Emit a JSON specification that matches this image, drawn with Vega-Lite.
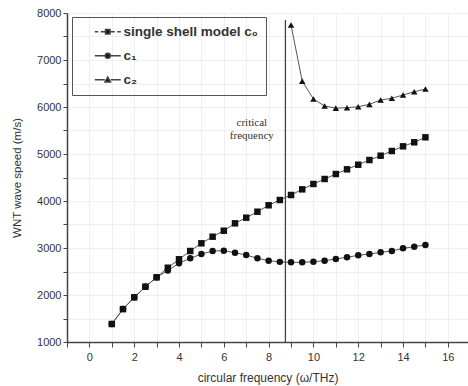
{
  "$schema": "https://vega.github.io/schema/vega-lite/v6.json",
  "width": 401,
  "height": 329,
  "autosize": {"type": "none"},
  "padding": {"left": 67, "top": 13, "right": 0, "bottom": 44},
  "background": "white",
  "config": {
    "font": "Liberation Sans",
    "view": {"stroke": null},
    "axis": {"labelColor": "#333", "titleColor": "#333", "domainColor": "#444", "tickColor": "#444", "labelFont": "Liberation Sans", "titleFont": "Liberation Sans", "gridColor": "#ececec", "gridWidth": 0.8}
  },
  "data": {"values": [
      {"x": 1, "v": 1383, "s": "c0"}, {"x": 1.5, "v": 1700, "s": "c0"}, {"x": 2, "v": 1950, "s": "c0"}, {"x": 2.5, "v": 2177, "s": "c0"}, {"x": 3, "v": 2376, "s": "c0"}, {"x": 3.5, "v": 2580, "s": "c0"}, {"x": 4, "v": 2760, "s": "c0"}, {"x": 4.5, "v": 2936, "s": "c0"}, {"x": 5, "v": 3100, "s": "c0"}, {"x": 5.5, "v": 3240, "s": "c0"}, {"x": 6, "v": 3368, "s": "c0"}, {"x": 6.5, "v": 3525, "s": "c0"}, {"x": 7, "v": 3645, "s": "c0"}, {"x": 7.5, "v": 3772, "s": "c0"}, {"x": 8, "v": 3909, "s": "c0"}, {"x": 8.5, "v": 4021, "s": "c0"}, {"x": 9, "v": 4128, "s": "c0"}, {"x": 9.5, "v": 4248, "s": "c0"}, {"x": 10, "v": 4362, "s": "c0"}, {"x": 10.5, "v": 4468, "s": "c0"}, {"x": 11, "v": 4574, "s": "c0"}, {"x": 11.5, "v": 4674, "s": "c0"}, {"x": 12, "v": 4772, "s": "c0"}, {"x": 12.5, "v": 4872, "s": "c0"}, {"x": 13, "v": 4964, "s": "c0"}, {"x": 13.5, "v": 5064, "s": "c0"}, {"x": 14, "v": 5163, "s": "c0"}, {"x": 14.5, "v": 5249, "s": "c0"}, {"x": 15, "v": 5355, "s": "c0"},
      {"x": 1, "v": 1383, "s": "c1"}, {"x": 1.5, "v": 1700, "s": "c1"}, {"x": 2, "v": 1950, "s": "c1"}, {"x": 2.5, "v": 2177, "s": "c1"}, {"x": 3, "v": 2376, "s": "c1"}, {"x": 3.5, "v": 2520, "s": "c1"}, {"x": 4, "v": 2675, "s": "c1"}, {"x": 4.5, "v": 2780, "s": "c1"}, {"x": 5, "v": 2872, "s": "c1"}, {"x": 5.5, "v": 2936, "s": "c1"}, {"x": 6, "v": 2943, "s": "c1"}, {"x": 6.5, "v": 2900, "s": "c1"}, {"x": 7, "v": 2851, "s": "c1"}, {"x": 7.5, "v": 2781, "s": "c1"}, {"x": 8, "v": 2730, "s": "c1"}, {"x": 8.5, "v": 2705, "s": "c1"}, {"x": 9, "v": 2695, "s": "c1"}, {"x": 9.5, "v": 2695, "s": "c1"}, {"x": 10, "v": 2709, "s": "c1"}, {"x": 10.5, "v": 2730, "s": "c1"}, {"x": 11, "v": 2766, "s": "c1"}, {"x": 11.5, "v": 2802, "s": "c1"}, {"x": 12, "v": 2845, "s": "c1"}, {"x": 12.5, "v": 2872, "s": "c1"}, {"x": 13, "v": 2908, "s": "c1"}, {"x": 13.5, "v": 2936, "s": "c1"}, {"x": 14, "v": 2993, "s": "c1"}, {"x": 14.5, "v": 3028, "s": "c1"}, {"x": 15, "v": 3064, "s": "c1"},
      {"x": 9, "v": 7745, "s": "c2"}, {"x": 9.5, "v": 6550, "s": "c2"}, {"x": 10, "v": 6170, "s": "c2"}, {"x": 10.5, "v": 6021, "s": "c2"}, {"x": 11, "v": 5975, "s": "c2"}, {"x": 11.5, "v": 5985, "s": "c2"}, {"x": 12, "v": 6006, "s": "c2"}, {"x": 12.5, "v": 6057, "s": "c2"}, {"x": 13, "v": 6149, "s": "c2"}, {"x": 13.5, "v": 6185, "s": "c2"}, {"x": 14, "v": 6255, "s": "c2"}, {"x": 14.5, "v": 6325, "s": "c2"}, {"x": 15, "v": 6383, "s": "c2"}
  ]},
  "encoding": {
    "x": {"field": "x", "type": "quantitative", "scale": {"domain": [-1, 16.9], "nice": false, "zero": false},
      "axis": {"title": "circular frequency (ω/THz)", "titleFontSize": 12, "titleFontWeight": "normal", "titlePadding": 10, "labelFontSize": 11, "format": "d", "values": [-1,0,1,2,3,4,5,6,7,8,9,10,11,12,13,14,15,16], "labelExpr": "datum.value % 2 == 0 ? datum.label : ''", "tickSize": 5, "domainWidth": 1.5, "grid": true, "labelPadding": 4}},
    "y": {"field": "v", "type": "quantitative", "scale": {"domain": [1000, 8000], "nice": false, "zero": false},
      "axis": {"title": "WNT wave speed (m/s)", "titleFontSize": 11.5, "titleFontWeight": "normal", "titlePadding": 14, "labelFontSize": 11, "format": "d", "values": [1000,1500,2000,2500,3000,3500,4000,4500,5000,5500,6000,6500,7000,7500,8000], "labelExpr": "datum.value % 1000 == 0 ? datum.label : ''", "tickSize": 4, "domainWidth": 1.5, "grid": true, "labelPadding": 2}}
  },
  "layer": [
    {
      "mark": {"type": "line", "color": "#555", "strokeWidth": 1},
      "encoding": {"detail": {"field": "s"}}
    },
    {
      "mark": {"type": "point", "filled": true, "color": "#111", "opacity": 1, "size": 42},
      "encoding": {
        "shape": {"field": "s", "type": "nominal", "scale": {"domain": ["c0", "c1", "c2"], "range": ["square", "circle", "triangle-up"]}, "legend": null}
      }
    },
    {
      "transform": [{"filter": "datum.x < -100"}],
      "mark": {"type": "point", "filled": true, "fill": "#111", "stroke": "#444", "strokeWidth": 1, "opacity": 1, "size": 100},
      "encoding": {
        "shape": {"field": "s", "type": "nominal",
          "scale": {"domain": ["c0", "c1", "c2"], "range": [
            "M-2.6,0H-1.9M-1.4,0H-0.6M0.6,0H1.4M1.9,0H2.6M-0.45,-0.45H0.45V0.45H-0.45Z",
            "M-2.6,0H-0.6M0.6,0H2.6M-0.5,0A0.5,0.5 0 1,0 0.5,0A0.5,0.5 0 1,0 -0.5,0Z",
            "M-2.6,0H-0.6M0.6,0H2.6M0,-0.55L0.55,0.45H-0.55Z"]},
          "legend": {"title": null, "orient": "none", "legendX": 5, "legendY": 4, "padding": 8, "strokeColor": "#555", "fillColor": null, "symbolOffset": 21, "labelOffset": 9, "labelFontSize": 13.5, "labelFontWeight": "bold", "labelColor": "#333", "rowPadding": 9, "symbolSize": 100,
            "labelExpr": "datum.value == 'c0' ? 'single shell model c₀' : datum.value == 'c1' ? 'c₁' : 'c₂'"}}
      }
    },
    {
      "transform": [{"filter": "datum.s == 'c0' && datum.x == 1"}],
      "mark": {"type": "rule", "color": "#444", "strokeWidth": 1.3},
      "encoding": {"x": {"datum": 8.75}, "y": {"datum": 7850}, "y2": {"datum": 1000}}
    },
    {
      "transform": [{"filter": "datum.s == 'c0' && datum.x == 1"}],
      "mark": {"type": "text", "font": "Liberation Serif", "fontSize": 11, "color": "#333", "align": "center", "baseline": "middle", "lineHeight": 13},
      "encoding": {"x": {"datum": 7.25}, "y": {"datum": 5650}, "text": {"value": ["critical", "frequency"]}}
    }
  ],
  "resolve": {"scale": {"shape": "independent"}, "legend": {"shape": "independent"}}
}
